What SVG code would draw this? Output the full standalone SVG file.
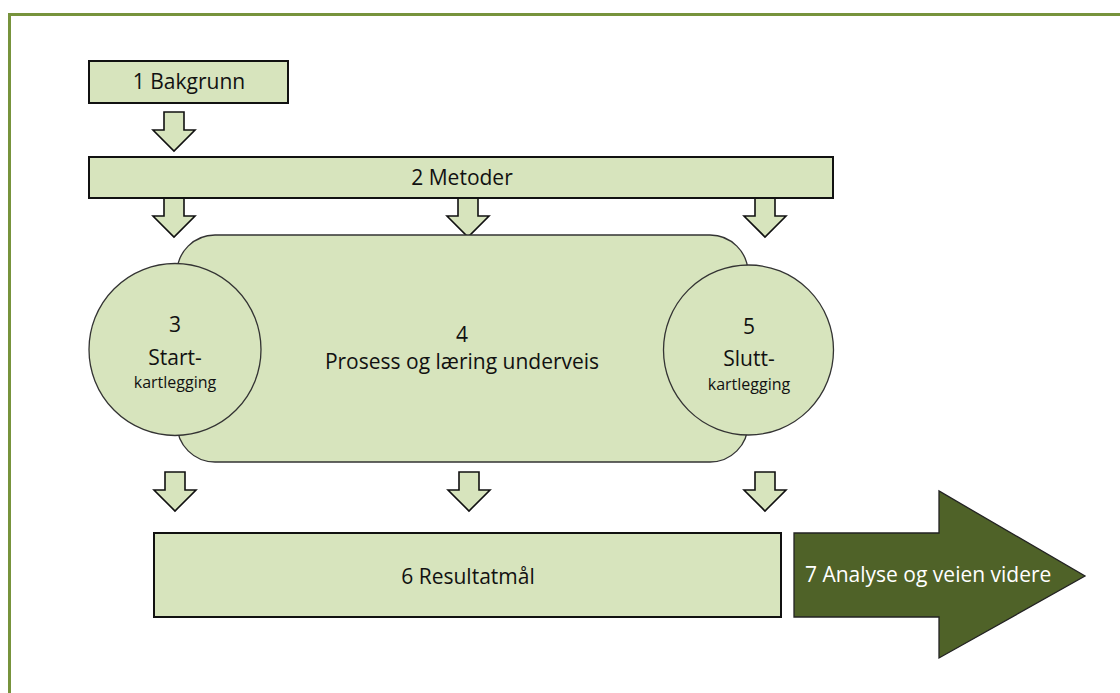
<svg xmlns="http://www.w3.org/2000/svg" width="1120" height="693" viewBox="0 0 1120 693">
<style>
.box{fill:#d7e4bd;stroke:#111;stroke-width:2}
.soft{fill:#d7e4bd;stroke:#333;stroke-width:1.3}
.arr{fill:#d7e4bd;stroke:#111;stroke-width:1.6;stroke-linejoin:miter}
.t{font-family:"Open Sans","Liberation Sans",sans-serif;font-size:21px;fill:#111;text-anchor:middle}
.s{font-size:16px}
.w{fill:#fff;text-anchor:start}
</style>
<defs>
<path id="dn" d="M-10,0 H10 V18 H21 L0,39 L-21,18 H-10 Z"/>
</defs>
<rect x="0" y="0" width="1120" height="693" fill="#fff"/>
<path d="M9.5,700 V14.5 H1130" fill="none" stroke="#77933c" stroke-width="3"/>
<g id="connectors">
<use href="#dn" class="arr" x="174" y="112"/>
<use href="#dn" class="arr" x="174" y="198"/>
<use href="#dn" class="arr" x="468" y="198"/>
<use href="#dn" class="arr" x="765" y="198"/>
<use href="#dn" class="arr" x="175" y="472"/>
<use href="#dn" class="arr" x="469" y="472"/>
<use href="#dn" class="arr" x="765" y="472"/>
</g>
<g id="n1"><rect class="box" x="89" y="61" width="199" height="42"/><text class="t" x="189" y="89">1 Bakgrunn</text></g>
<g id="n2"><rect class="box" x="89" y="157" width="744" height="41"/><text class="t" x="462" y="185">2 Metoder</text></g>
<g id="n4"><rect class="soft" x="177" y="235" width="571" height="227" rx="38" ry="38"/><text class="t" x="462" y="342">4</text><text class="t" x="462" y="369">Prosess og læring underveis</text></g>
<g id="n3"><circle class="soft" cx="175" cy="349.5" r="86"/><text class="t" x="175" y="332">3</text><text class="t" x="175" y="365">Start-</text><text class="t s" x="175" y="388">kartlegging</text></g>
<g id="n5"><circle class="soft" cx="748.5" cy="350" r="85"/><text class="t" x="749" y="334">5</text><text class="t" x="749" y="366">Slutt-</text><text class="t s" x="749" y="390">kartlegging</text></g>
<g id="n6"><rect class="box" x="154" y="533" width="627" height="84"/><text class="t" x="468" y="584">6 Resultatmål</text></g>
<g id="n7"><path d="M794,533 H939 V491 L1085,576 L939,658 V617 H794 Z" fill="#4f6228" stroke="#222" stroke-width="1.3"/><text class="t w" x="805" y="582">7 Analyse og veien videre</text></g>
</svg>
